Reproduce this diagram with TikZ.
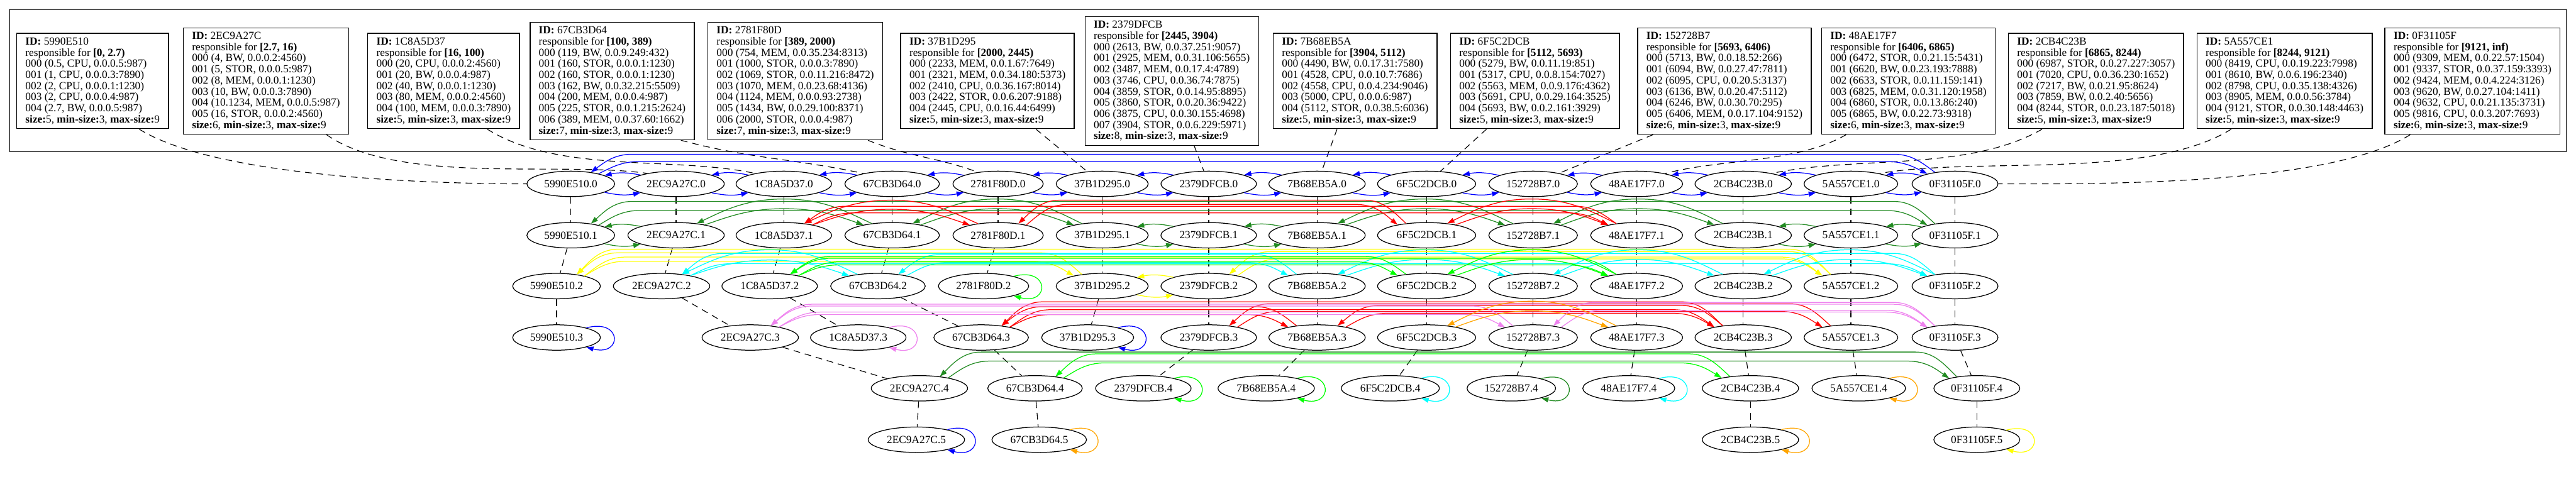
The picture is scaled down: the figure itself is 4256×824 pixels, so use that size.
\documentclass[tikz,border=0pt]{standalone}
\usepackage{fontspec}
\setmainfont{Liberation Serif}
\usetikzlibrary{arrows.meta,calc,shapes.geometric}
\definecolor{sgblue}{RGB}{0,0,255}
\definecolor{sggreen}{RGB}{34,139,34}
\definecolor{sglime}{RGB}{0,255,0}
\definecolor{sgred}{RGB}{255,0,0}
\definecolor{sgyellow}{RGB}{255,255,0}
\definecolor{sgcyan}{RGB}{0,255,255}
\definecolor{sgviolet}{RGB}{238,130,238}
\definecolor{sgorange}{RGB}{255,165,0}
\definecolor{sgframe}{RGB}{85,85,85}

\tikzset{
  nd/.style={draw, ellipse, line width=0.65pt, inner xsep=3.76pt, inner ysep=1pt,
    minimum height=21pt, font=\fontsize{9}{9.2}\selectfont},
  infobox/.style={draw, line width=0.75pt, align=left, inner xsep=7.2pt, inner ysep=3.5pt,
    font=\fontsize{9}{9.2}\selectfont},
  lnk/.style={line width=0.65pt, -{Triangle[length=5.9pt,width=4.1pt]}},
  lvl/.style={line width=0.6pt, dash pattern=on 5.5pt off 4pt},
}

% text of the peer boxes
\newcommand{\hdr}[2]{\textbf{ID:} #1\\responsible for \textbf{#2}}
\newcommand{\ftr}[1]{\textbf{size:}#1, \textbf{min-size:}3, \textbf{max-size:}9}

% two neighbours side by side
\newcommand{\nbrpair}[3]{%
  \draw[lnk,#3] (#1.-14) to[bend right=12] (#2.-166);
  \draw[lnk,#3] (#2.166) to[bend right=12] (#1.14);}
% one link over the row, running on a track (px from the top)
\newcommand{\skiplink}[4]{%
  \draw[lnk,#3] let \p1=(#1), \p2=(#2),
      \n1={(\x2>\x1) ? 1 : -1},
      \n2={abs(\x2-\x1)<200 ? abs(\x2-\x1)/2 : 34},
      \n3={-0.5*#4}
    in (\p1) .. controls ({\x1+0.3*(\n1)*(\n2)*1pt}, {(\y1+(\n3)*1pt)/2})
                     and ({\x1+0.55*(\n1)*(\n2)*1pt}, {(\n3)*1pt})
          .. ({\x1+(\n1)*(\n2)*1pt}, {(\n3)*1pt})
          -- ({\x2-(\n1)*(\n2)*1pt}, {(\n3)*1pt})
          .. controls ({\x2-0.55*(\n1)*(\n2)*1pt}, {(\n3)*1pt})
                  and ({\x2-0.3*(\n1)*(\n2)*1pt}, {(\y2+(\n3)*1pt)/2})
          .. (\p2);}
% both directions between two list members
\newcommand{\linkpair}[5]{%
  \skiplink{#2.150}{#1.30}{#3}{#4}
  \skiplink{#1.20}{#2.160}{#3}{#5}}
% list with one member
\newcommand{\selfloop}[2]{%
  \draw[lnk,#2] (#1.18) to[out=15,in=-15,distance=31pt] (#1.-18);}

\begin{document}
\begin{tikzpicture}[x=0.5pt,y=0.5pt]
  \useasboundingbox (0,0) rectangle (4256,-824);

  % Peer boxes
  \draw[sgframe,line width=1pt] (16,-16) rectangle (4240,-250);
  \node[infobox] (boxa) at (153,-134) {\hdr{5990E510}{[0, 2.7)}\\
    000 (0.5, CPU, 0.0.0.5:987)\\ 001 (1, CPU, 0.0.0.3:7890)\\ 002 (2, CPU, 0.0.0.1:1230)\\
    003 (2, CPU, 0.0.0.4:987)\\ 004 (2.7, BW, 0.0.0.5:987)\\ \ftr{5}};
  \node[infobox] (boxb) at (439.5,-134) {\hdr{2EC9A27C}{[2.7, 16)}\\
    000 (4, BW, 0.0.0.2:4560)\\ 001 (5, STOR, 0.0.0.5:987)\\ 002 (8, MEM, 0.0.0.1:1230)\\
    003 (10, BW, 0.0.0.3:7890)\\ 004 (10.1234, MEM, 0.0.0.5:987)\\ 005 (16, STOR, 0.0.0.2:4560)\\ \ftr{6}};
  \node[infobox] (boxc) at (733,-134) {\hdr{1C8A5D37}{[16, 100)}\\
    000 (20, CPU, 0.0.0.2:4560)\\ 001 (20, BW, 0.0.0.4:987)\\ 002 (40, BW, 0.0.0.1:1230)\\
    003 (80, MEM, 0.0.0.2:4560)\\ 004 (100, MEM, 0.0.0.3:7890)\\ \ftr{5}};
  \node[infobox] (boxd) at (1011.5,-134) {\hdr{67CB3D64}{[100, 389)}\\
    000 (119, BW, 0.0.9.249:432)\\ 001 (160, STOR, 0.0.0.1:1230)\\ 002 (160, STOR, 0.0.0.1:1230)\\
    003 (162, BW, 0.0.32.215:5509)\\ 004 (200, MEM, 0.0.0.4:987)\\ 005 (225, STOR, 0.0.1.215:2624)\\
    006 (389, MEM, 0.0.37.60:1662)\\ \ftr{7}};
  \node[infobox] (boxe) at (1314,-134) {\hdr{2781F80D}{[389, 2000)}\\
    000 (754, MEM, 0.0.35.234:8313)\\ 001 (1000, STOR, 0.0.0.3:7890)\\ 002 (1069, STOR, 0.0.11.216:8472)\\
    003 (1070, MEM, 0.0.23.68:4136)\\ 004 (1124, MEM, 0.0.0.93:2738)\\ 005 (1434, BW, 0.0.29.100:8371)\\
    006 (2000, STOR, 0.0.0.4:987)\\ \ftr{7}};
  \node[infobox] (boxf) at (1631.5,-134) {\hdr{37B1D295}{[2000, 2445)}\\
    000 (2233, MEM, 0.0.1.67:7649)\\ 001 (2321, MEM, 0.0.34.180:5373)\\ 002 (2410, CPU, 0.0.36.167:8014)\\
    003 (2422, STOR, 0.0.6.207:9188)\\ 004 (2445, CPU, 0.0.16.44:6499)\\ \ftr{5}};
  \node[infobox] (boxg) at (1936,-134) {\hdr{2379DFCB}{[2445, 3904)}\\
    000 (2613, BW, 0.0.37.251:9057)\\ 001 (2925, MEM, 0.0.31.106:5655)\\ 002 (3487, MEM, 0.0.17.4:4789)\\
    003 (3746, CPU, 0.0.36.74:7875)\\ 004 (3859, STOR, 0.0.14.95:8895)\\ 005 (3860, STOR, 0.0.20.36:9422)\\
    006 (3875, CPU, 0.0.30.155:4698)\\ 007 (3904, STOR, 0.0.6.229:5971)\\ \ftr{8}};
  \node[infobox] (boxh) at (2239,-134) {\hdr{7B68EB5A}{[3904, 5112)}\\
    000 (4490, BW, 0.0.17.31:7580)\\ 001 (4528, CPU, 0.0.10.7:7686)\\ 002 (4558, CPU, 0.0.4.234:9046)\\
    003 (5000, CPU, 0.0.0.6:987)\\ 004 (5112, STOR, 0.0.38.5:6036)\\ \ftr{5}};
  \node[infobox] (boxi) at (2536,-134) {\hdr{6F5C2DCB}{[5112, 5693)}\\
    000 (5279, BW, 0.0.11.19:851)\\ 001 (5317, CPU, 0.0.8.154:7027)\\ 002 (5563, MEM, 0.0.9.176:4362)\\
    003 (5691, CPU, 0.0.29.164:3525)\\ 004 (5693, BW, 0.0.2.161:3929)\\ \ftr{5}};
  \node[infobox] (boxj) at (2849,-134) {\hdr{152728B7}{[5693, 6406)}\\
    000 (5713, BW, 0.0.18.52:266)\\ 001 (6094, BW, 0.0.27.47:7811)\\ 002 (6095, CPU, 0.0.20.5:3137)\\
    003 (6136, BW, 0.0.20.47:5112)\\ 004 (6246, BW, 0.0.30.70:295)\\ 005 (6406, MEM, 0.0.17.104:9152)\\ \ftr{6}};
  \node[infobox] (boxk) at (3153,-134) {\hdr{48AE17F7}{[6406, 6865)}\\
    000 (6472, STOR, 0.0.21.15:5431)\\ 001 (6620, BW, 0.0.23.193:7888)\\ 002 (6633, STOR, 0.0.11.159:141)\\
    003 (6825, MEM, 0.0.31.120:1958)\\ 004 (6860, STOR, 0.0.13.86:240)\\ 005 (6865, BW, 0.0.22.73:9318)\\ \ftr{6}};
  \node[infobox] (boxl) at (3463,-134) {\hdr{2CB4C23B}{[6865, 8244)}\\
    000 (6987, STOR, 0.0.27.227:3057)\\ 001 (7020, CPU, 0.0.36.230:1652)\\ 002 (7217, BW, 0.0.21.95:8624)\\
    003 (7859, BW, 0.0.2.40:5656)\\ 004 (8244, STOR, 0.0.23.187:5018)\\ \ftr{5}};
  \node[infobox] (boxm) at (3774.5,-134) {\hdr{5A557CE1}{[8244, 9121)}\\
    000 (8419, CPU, 0.0.19.223:7998)\\ 001 (8610, BW, 0.0.6.196:2340)\\ 002 (8798, CPU, 0.0.35.138:4326)\\
    003 (8905, MEM, 0.0.0.56:3784)\\ 004 (9121, STOR, 0.0.30.148:4463)\\ \ftr{5}};
  \node[infobox] (boxn) at (4085,-134) {\hdr{0F31105F}{[9121, inf)}\\
    000 (9309, MEM, 0.0.22.57:1504)\\ 001 (9337, STOR, 0.0.37.159:3393)\\ 002 (9424, MEM, 0.0.4.224:3126)\\
    003 (9620, BW, 0.0.27.104:1411)\\ 004 (9632, CPU, 0.0.21.135:3731)\\ 005 (9816, CPU, 0.0.3.207:7693)\\ \ftr{6}};

  % Levels 0 and 1
  \foreach \col/\nm/\x in {a/5990E510/943, b/2EC9A27C/1117, c/1C8A5D37/1295, d/67CB3D64/1474,
      e/2781F80D/1649, f/37B1D295/1821, g/2379DFCB/1997, h/7B68EB5A/2176, i/6F5C2DCB/2357,
      j/152728B7/2533, k/48AE17F7/2704, l/2CB4C23B/2880, m/5A557CE1/3058, n/0F31105F/3230} {
    \node[nd] (\col0) at (\x,-304) {\nm.0};
    \node[nd] (\col1) at (\x,-389) {\nm.1};
  }
  % Level 2
  \foreach \col/\nm/\x in {a/5990E510/919.5, b/2EC9A27C/1093, c/1C8A5D37/1271.6, d/67CB3D64/1450.5,
      e/2781F80D/1625, f/37B1D295/1821, g/2379DFCB/1997, h/7B68EB5A/2176, i/6F5C2DCB/2357,
      j/152728B7/2533, k/48AE17F7/2704, l/2CB4C23B/2880, m/5A557CE1/3058, n/0F31105F/3230}
    \node[nd] (\col2) at (\x,-473) {\nm.2};
  % Level 3
  \foreach \col/\nm/\x in {a/5990E510/919.5, b/2EC9A27C/1239.5, c/1C8A5D37/1418, d/67CB3D64/1621,
      f/37B1D295/1797, g/2379DFCB/1997, h/7B68EB5A/2176, i/6F5C2DCB/2357,
      j/152728B7/2533, k/48AE17F7/2704, l/2CB4C23B/2880, m/5A557CE1/3058, n/0F31105F/3230}
    \node[nd] (\col3) at (\x,-558) {\nm.3};
  % Level 4
  \foreach \col/\nm/\x in {b/2EC9A27C/1519, d/67CB3D64/1710, g/2379DFCB/1889, h/7B68EB5A/2092,
      i/6F5C2DCB/2297, j/152728B7/2497, k/48AE17F7/2691, l/2CB4C23B/2892, m/5A557CE1/3071, n/0F31105F/3266}
    \node[nd] (\col4) at (\x,-642) {\nm.4};
  % Level 5
  \foreach \col/\nm/\x in {b/2EC9A27C/1514, d/67CB3D64/1717, l/2CB4C23B/2892, n/0F31105F/3266}
    \node[nd] (\col5) at (\x,-727) {\nm.5};

  % Boxes to their level-0 nodes
  \draw[lvl] ([xshift=38.5pt]boxa.south) to[out=-32,in=180,looseness=0.6] (a0.west);
  \draw[lvl] ([xshift=50pt]boxb.south) to[out=-35,in=172,looseness=0.7] (b0.160);
  \draw[lvl] ([xshift=36pt]boxc.south) to[out=-32,in=168,looseness=0.8] (c0.160);
  \draw[lvl] ([xshift=56.75pt]boxd.south) to[out=-15,in=168] (d0.160);
  \draw[lvl] ([xshift=60pt]boxe.south) to[out=-22,in=160] (e0.150);
  \draw[lvl] ([xshift=40pt]boxf.south) -- (f0);
  \draw[lvl] ([xshift=18.5pt]boxg.south) -- (g0);
  \draw[lvl] ([xshift=-15pt]boxh.south) -- (h0);
  \draw[lvl] ([xshift=-40pt]boxi.south) -- (i0);
  \draw[lvl] ([xshift=-59pt]boxj.south) -- (j0);
  \draw[lvl] ([xshift=-51.5pt]boxk.south) to[out=-150,in=15,looseness=0.8] (k0.20);
  \draw[lvl] ([xshift=-44.5pt]boxl.south) to[out=-150,in=12,looseness=0.8] (l0.20);
  \draw[lvl] ([xshift=-44pt]boxm.south) to[out=-148,in=10,looseness=0.7] (m0.20);
  \draw[lvl] ([xshift=-51.5pt]boxn.south) to[out=-148,in=0,looseness=0.6] (n0.east);

  % Same peer, next level
  \foreach \u/\v in {a0/a1,a1/a2,a2/a3, b0/b1,b1/b2,b2/b3,b3/b4,b4/b5, c0/c1,c1/c2,c2/c3,
      d0/d1,d1/d2,d2/d3,d3/d4,d4/d5, e0/e1,e1/e2, f0/f1,f1/f2,f2/f3, g0/g1,g1/g2,g2/g3,g3/g4,
      h0/h1,h1/h2,h2/h3,h3/h4, i0/i1,i1/i2,i2/i3,i3/i4, j0/j1,j1/j2,j2/j3,j3/j4,
      k0/k1,k1/k2,k2/k3,k3/k4, l0/l1,l1/l2,l2/l3,l3/l4,l4/l5, m0/m1,m1/m2,m2/m3,m3/m4,
      n0/n1,n1/n2,n2/n3,n3/n4,n4/n5}
    \draw[lvl] (\u) -- (\v);

  % Level 0 list
  \foreach \u/\v in {a0/b0,b0/c0,c0/d0,d0/e0,e0/f0,f0/g0,g0/h0,h0/i0,i0/j0,j0/k0,k0/l0,l0/m0,m0/n0}
    \nbrpair{\u}{\v}{sgblue};
  \linkpair{a0}{n0}{sgblue}{255}{267}

  % Level 1 lists
  \foreach \u/\v in {a1/b1,f1/g1,g1/h1,l1/m1,m1/n1}
    \nbrpair{\u}{\v}{sggreen};
  \linkpair{b1}{d1}{sggreen}{329}{345}
  \linkpair{d1}{f1}{sggreen}{329}{345}
  \linkpair{h1}{j1}{sggreen}{329}{345}
  \linkpair{j1}{l1}{sggreen}{329}{345}
  \linkpair{a1}{n1}{sggreen}{333}{348}
  \linkpair{c1}{e1}{sgred}{331}{346}
  \linkpair{e1}{i1}{sgred}{331}{338}
  \linkpair{i1}{k1}{sgred}{329}{345}
  \linkpair{c1}{k1}{sgred}{341}{352}

  % Level 2 lists
  \linkpair{a2}{f2}{sgyellow}{418}{432}
  \nbrpair{f2}{g2}{sgyellow}
  \linkpair{g2}{m2}{sgyellow}{416}{428}
  \linkpair{a2}{m2}{sgyellow}{412}{425}
  \linkpair{b2}{d2}{sgcyan}{413}{430}
  \linkpair{d2}{h2}{sgcyan}{421}{434}
  \linkpair{h2}{j2}{sgcyan}{413}{429}
  \linkpair{j2}{l2}{sgcyan}{413}{429}
  \linkpair{l2}{n2}{sgcyan}{413}{429}
  \linkpair{b2}{n2}{sgcyan}{419}{436}
  \linkpair{c2}{i2}{sglime}{424}{433}
  \linkpair{i2}{k2}{sglime}{413}{429}
  \linkpair{c2}{k2}{sglime}{427}{438}
  \selfloop{e2}{sglime}

  % Level 3 lists
  \linkpair{d3}{h3}{sgred}{507}{520}
  \linkpair{h3}{l3}{sgred}{505}{518}
  \linkpair{d3}{l3}{sgred}{499}{512}
  \linkpair{g3}{m3}{sgred}{502}{515}
  \linkpair{b3}{j3}{sgviolet}{506}{520}
  \linkpair{j3}{n3}{sgviolet}{500}{513}
  \linkpair{b3}{n3}{sgviolet}{503}{516}
  \linkpair{i3}{k3}{sgorange}{498}{514}
  \selfloop{a3}{sgblue}
  \selfloop{c3}{sgviolet}
  \selfloop{f3}{sgblue}

  % Level 4 lists
  \linkpair{b4}{n4}{sggreen}{582}{597}
  \linkpair{d4}{l4}{sglime}{585}{600}
  \selfloop{g4}{sglime}
  \selfloop{h4}{sglime}
  \selfloop{i4}{sgcyan}
  \selfloop{j4}{sggreen}
  \selfloop{k4}{sgcyan}
  \selfloop{m4}{sgorange}

  % Level 5 lists
  \selfloop{b5}{sgblue}
  \selfloop{d5}{sgorange}
  \selfloop{l5}{sgorange}
  \selfloop{n5}{sgyellow}
\end{tikzpicture}
\end{document}
